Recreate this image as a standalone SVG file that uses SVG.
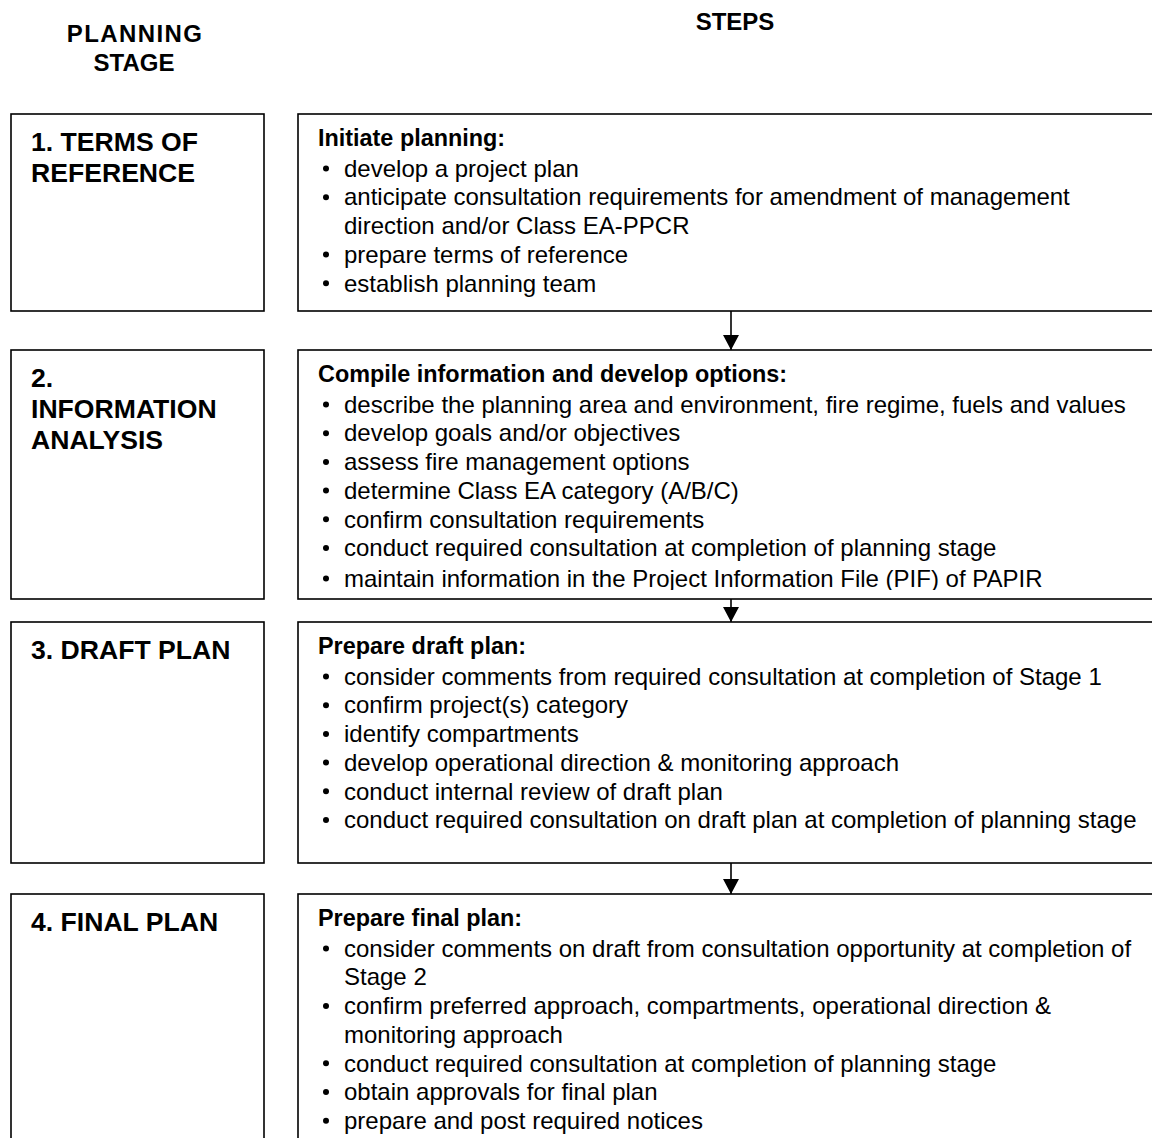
<svg xmlns="http://www.w3.org/2000/svg" width="1152" height="1138" viewBox="0 0 1152 1138">
<style>
text{font-family:"Liberation Sans",Arial,sans-serif;fill:#000}
.hd{font-size:24px;font-weight:bold;text-anchor:middle}
.ttl{font-size:26.6px;font-weight:bold}
.lbl{font-size:23.4px;font-weight:bold}
.txt{font-size:24px}
.box{fill:#fff;stroke:#000;stroke-width:1.6}
.bul{fill:#000}
.conn{stroke:#000;stroke-width:1.6;fill:none}
</style>
<defs>
<marker id="ah" markerUnits="userSpaceOnUse" markerWidth="16" markerHeight="16" refX="15" refY="8" orient="auto">
<path d="M0,0 L15,8 L0,16 z" fill="#000"/>
</marker>
<clipPath id="clip2"><rect x="298" y="350" width="860" height="240"/></clipPath>
</defs>
<rect width="1152" height="1138" fill="#fff"/>
<g id="headers">
<text class="hd" x="135" y="42" letter-spacing="1.4">PLANNING</text>
<text class="hd" x="134" y="71">STAGE</text>
<text class="hd" x="735" y="30">STEPS</text>
</g>
<g id="stage1">
<rect class="box" x="11" y="114" width="253" height="197"/>
<text class="ttl" x="31" y="151">1. TERMS OF</text>
<text class="ttl" x="31" y="182">REFERENCE</text>
</g>
<g id="steps1">
<rect class="box" x="298" y="114" width="870" height="197"/>
<text class="lbl" x="318" y="146">Initiate planning:</text>
<circle class="bul" cx="326" cy="168.5" r="3"/>
<text class="txt" x="344" y="176.7">develop a project plan</text>
<circle class="bul" cx="326" cy="197.2" r="3"/>
<text class="txt" x="344" y="205.4">anticipate consultation requirements for amendment of management</text>
<text class="txt" x="344" y="234.1">direction and/or Class EA-PPCR</text>
<circle class="bul" cx="326" cy="254.6" r="3"/>
<text class="txt" x="344" y="262.8">prepare terms of reference</text>
<circle class="bul" cx="326" cy="283.3" r="3"/>
<text class="txt" x="344" y="291.5">establish planning team</text>
</g>
<g id="stage2">
<rect class="box" x="11" y="350" width="253" height="249"/>
<text class="ttl" x="31" y="387">2.</text>
<text class="ttl" x="31" y="418">INFORMATION</text>
<text class="ttl" x="31" y="449">ANALYSIS</text>
</g>
<g id="steps2">
<rect class="box" x="298" y="350" width="870" height="249"/>
<g clip-path="url(#clip2)">
<text class="lbl" x="318" y="382">Compile information and develop options:</text>
<circle class="bul" cx="326" cy="404.5" r="3"/>
<text class="txt" x="344" y="412.7">describe the planning area and environment, fire regime, fuels and values</text>
<circle class="bul" cx="326" cy="433.2" r="3"/>
<text class="txt" x="344" y="441.4">develop goals and/or objectives</text>
<circle class="bul" cx="326" cy="461.9" r="3"/>
<text class="txt" x="344" y="470.1">assess fire management options</text>
<circle class="bul" cx="326" cy="490.6" r="3"/>
<text class="txt" x="344" y="498.8">determine Class EA category (A/B/C)</text>
<circle class="bul" cx="326" cy="519.3" r="3"/>
<text class="txt" x="344" y="527.5">confirm consultation requirements</text>
<circle class="bul" cx="326" cy="548" r="3"/>
<text class="txt" x="344" y="556.2">conduct required consultation at completion of planning stage</text>
<circle class="bul" cx="326" cy="578.5" r="3"/>
<text class="txt" x="344" y="586.7">maintain information in the Project Information File (PIF) of PAPIR</text>
</g>
</g>
<g id="stage3">
<rect class="box" x="11" y="622" width="253" height="241"/>
<text class="ttl" x="31" y="659">3. DRAFT PLAN</text>
</g>
<g id="steps3">
<rect class="box" x="298" y="622" width="870" height="241"/>
<text class="lbl" x="318" y="654">Prepare draft plan:</text>
<circle class="bul" cx="326" cy="676.5" r="3"/>
<text class="txt" x="344" y="684.7">consider comments from required consultation at completion of Stage 1</text>
<circle class="bul" cx="326" cy="705.2" r="3"/>
<text class="txt" x="344" y="713.4">confirm project(s) category</text>
<circle class="bul" cx="326" cy="733.9" r="3"/>
<text class="txt" x="344" y="742.1">identify compartments</text>
<circle class="bul" cx="326" cy="762.6" r="3"/>
<text class="txt" x="344" y="770.8">develop operational direction &amp; monitoring approach</text>
<circle class="bul" cx="326" cy="791.3" r="3"/>
<text class="txt" x="344" y="799.5">conduct internal review of draft plan</text>
<circle class="bul" cx="326" cy="820" r="3"/>
<text class="txt" x="344" y="828.2">conduct required consultation on draft plan at completion of planning stage</text>
</g>
<g id="stage4">
<rect class="box" x="11" y="894" width="253" height="260"/>
<text class="ttl" x="31" y="931">4. FINAL PLAN</text>
</g>
<g id="steps4">
<rect class="box" x="298" y="894" width="870" height="260"/>
<text class="lbl" x="318" y="926">Prepare final plan:</text>
<circle class="bul" cx="326" cy="948.5" r="3"/>
<text class="txt" x="344" y="956.7">consider comments on draft from consultation opportunity at completion of</text>
<text class="txt" x="344" y="985.4">Stage 2</text>
<circle class="bul" cx="326" cy="1005.9" r="3"/>
<text class="txt" x="344" y="1014.1">confirm preferred approach, compartments, operational direction &amp;</text>
<text class="txt" x="344" y="1042.8">monitoring approach</text>
<circle class="bul" cx="326" cy="1063.3" r="3"/>
<text class="txt" x="344" y="1071.5">conduct required consultation at completion of planning stage</text>
<circle class="bul" cx="326" cy="1092" r="3"/>
<text class="txt" x="344" y="1100.2">obtain approvals for final plan</text>
<circle class="bul" cx="326" cy="1120.7" r="3"/>
<text class="txt" x="344" y="1128.9">prepare and post required notices</text>
</g>
<g id="connectors">
<line class="conn" x1="731" y1="311" x2="731" y2="350" marker-end="url(#ah)"/>
<line class="conn" x1="731" y1="599" x2="731" y2="622" marker-end="url(#ah)"/>
<line class="conn" x1="731" y1="863" x2="731" y2="894" marker-end="url(#ah)"/>
</g>
</svg>
